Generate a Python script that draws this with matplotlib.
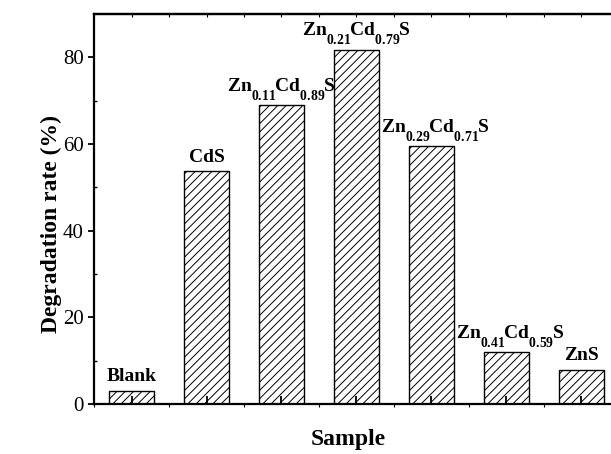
import matplotlib
matplotlib.use("Agg")
import matplotlib.pyplot as plt
import numpy as np

try:
    import matplotlib._mathtext as _mt
    _mt.FontConstantsBase.sub1 = 1.0
    _mt.FontConstantsBase.sub2 = 1.0
    _mt.FontConstantsBase.script_space = 0.0
except Exception:
    pass

samples = ['Blank', 'CdS', 'Zn0.11Cd0.89S', 'Zn0.21Cd0.79S', 'Zn0.29Cd0.71S', 'Zn0.41Cd0.59S', 'ZnS']
bar_labels = ['Blank', 'CdS',
              r'$\mathbf{Zn_{0.11}Cd_{0.89}S}$',
              r'$\mathbf{Zn_{0.21}Cd_{0.79}S}$',
              r'$\mathbf{Zn_{0.29}Cd_{0.71}S}$',
              r'$\mathbf{Zn_{0.41}Cd_{0.59}S}$',
              'ZnS']
rates = [3.0, 53.7, 69.0, 81.8, 59.5, 12.0, 7.9]
yticks = [0, 20, 40, 60, 80]

plt.rcParams['font.family'] = ['Liberation Serif', 'DejaVu Serif']
plt.rcParams['mathtext.fontset'] = 'custom'
plt.rcParams['mathtext.rm'] = 'Liberation Serif'
plt.rcParams['mathtext.bf'] = 'Liberation Serif:bold'
plt.rcParams['hatch.linewidth'] = 0.7

W, H = 611, 454
fig = plt.figure(figsize=(W / 100, H / 100), dpi=100)
ax = fig.add_axes([94.25 / W, 50 / H, (618.5 - 94.25) / W, 390 / H])

x = np.arange(len(samples))
ax.bar(x, rates, width=0.6, color='white', edgecolor='black', linewidth=1.0, hatch='////')

ax.set_xlim(-0.5, len(samples) - 0.5)
ax.set_ylim(0, 90)

for spine in ax.spines.values():
    spine.set_linewidth(1.6)

ax.set_yticks(yticks)
ax.set_yticklabels([str(v) for v in yticks], fontsize=15)
ax.set_yticks([10, 30, 50, 70], minor=True)
ax.tick_params(axis='y', which='major', direction='out', length=4.5, width=1.3, pad=3)
ax.tick_params(axis='y', which='minor', direction='in', length=2.5, width=1.0)

ax.set_xticks(x)
ax.set_xticklabels([])
ax.set_xticks(np.arange(-0.5, len(samples), 1.0), minor=True)
ax.tick_params(axis='x', which='major', direction='in', length=6, width=1.3)
ax.tick_params(axis='x', which='minor', direction='out', length=2.5, width=0.8)

# top ticks
sec = ax.secondary_xaxis('top')
sec.set_xticks(np.arange(-0.5, len(samples), 0.5))
sec.set_xticklabels([])
sec.tick_params(direction='in', length=2.5, width=0.8)
sec.spines['top'].set_linewidth(1.6)

for xi, r, lab in zip(x, rates, bar_labels):
    is_math = lab.startswith('$')
    dx = 3 if lab.startswith(r'$\mathbf{Zn_{0.29}') or lab.startswith(r'$\mathbf{Zn_{0.41}') else 0
    ax.annotate(lab, (xi, r), xytext=(dx, 2.5 if is_math else 4), textcoords='offset points',
                ha='center', va='bottom', fontsize=14, fontweight='bold')

fig.text(51 / W, 1 - 224 / H, 'Degradation rate (%)', rotation=90,
         ha='center', va='center', fontsize=17, fontweight='bold')
fig.text(348 / W, 1 - 445 / H, 'Sample', ha='center', va='baseline',
         fontsize=17, fontweight='bold')

fig.savefig('out.png', dpi=100)
